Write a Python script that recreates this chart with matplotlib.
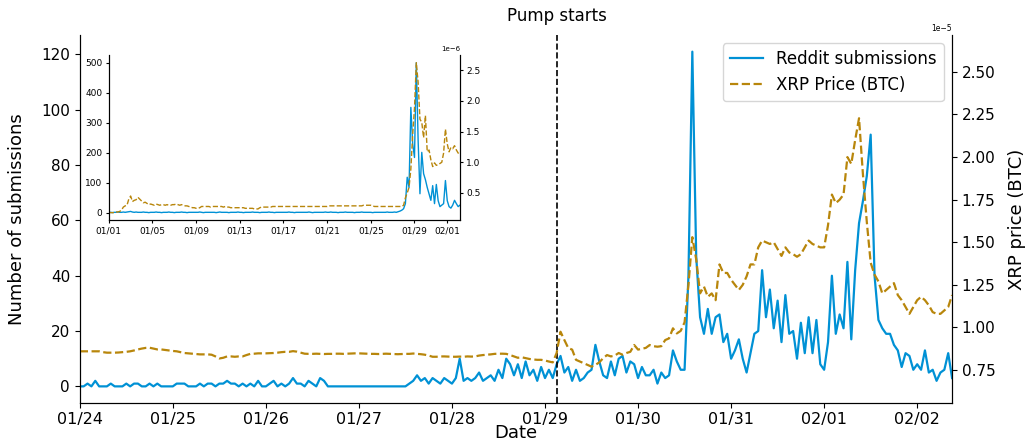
import numpy as np
import pandas as pd
import matplotlib
matplotlib.use("Agg")
import matplotlib.pyplot as plt
import matplotlib.dates as mdates
import matplotlib.transforms as mtransforms

# ==================================================
# DATA
# ==================================================
# main panel: hourly, 01/24 00:00 -> 02/02 09:00
main_start = "2018-01-24 00:00"
pump_time = "2018-01-29 03:00"

reddit_main = [
    0, 0, 1, 0, 2, 0, 0, 0, 1, 0, 0, 0, 1, 0, 1, 1, 0, 0, 1, 0, 1, 0, 0, 0,
    0, 1, 1, 1, 0, 0, 0, 1, 0, 1, 1, 0, 1, 1, 2, 1, 1, 0, 1, 0, 1, 0, 2, 0,
    0, 1, 2, 0, 1, 0, 1, 3, 1, 1, 0, 2, 1, 0, 3, 2, 0, 0, 0, 0, 0, 0, 0, 0,
    0, 0, 0, 0, 0, 0, 0, 0, 0, 0, 0, 0, 0, 1, 2, 4, 2, 3, 1, 3, 2, 1, 3, 2,
    1, 3, 10, 2, 3, 2, 3, 5, 2, 3, 4, 2, 6, 3, 10, 8, 4, 8, 3, 9, 4, 6, 2, 7,
    3, 6, 3, 8, 11, 5, 7, 2, 6, 2, 3, 5, 6, 15, 9, 4, 3, 9, 4, 10, 11, 5, 9, 8,
    3, 7, 4, 4, 6, 1, 5, 3, 4, 13, 9, 6, 6, 40, 121, 47, 25, 19, 28, 19, 25, 26, 16, 19,
    10, 13, 17, 10, 5, 12, 19, 20, 42, 25, 35, 21, 31, 16, 33, 19, 20, 10, 23, 12, 25, 12, 24, 8,
    6, 16, 40, 19, 26, 21, 45, 17, 42, 59, 67, 76, 91, 40, 24, 21, 19, 19, 15, 13, 7, 12, 11, 6,
    8, 6, 13, 5, 6, 2, 5, 6, 12, 3,
]

# XRP price in units of 1e-5 BTC
price_main = [
    0.86, 0.86, 0.86, 0.86, 0.86, 0.86, 0.855, 0.852, 0.852, 0.852, 0.853, 0.855,
    0.857, 0.86, 0.865, 0.871, 0.876, 0.88, 0.881, 0.876, 0.871, 0.871, 0.868, 0.865,
    0.862, 0.86, 0.855, 0.85, 0.848, 0.846, 0.844, 0.842, 0.842, 0.842, 0.84, 0.83,
    0.818, 0.822, 0.83, 0.83, 0.828, 0.83, 0.83, 0.838, 0.845, 0.846, 0.848, 0.848,
    0.848, 0.849, 0.85, 0.852, 0.855, 0.857, 0.857, 0.861, 0.858, 0.852, 0.846, 0.845,
    0.845, 0.846, 0.845, 0.844, 0.845, 0.845, 0.846, 0.846, 0.845, 0.846, 0.847, 0.848,
    0.848, 0.847, 0.846, 0.845, 0.845, 0.844, 0.845, 0.846, 0.845, 0.844, 0.843, 0.844,
    0.845, 0.845, 0.847, 0.845, 0.843, 0.84, 0.835, 0.828, 0.828, 0.83, 0.83, 0.829,
    0.828, 0.828, 0.829, 0.828, 0.83, 0.829, 0.83, 0.835, 0.838, 0.84, 0.842, 0.845,
    0.846, 0.846, 0.845, 0.838, 0.83, 0.822, 0.825, 0.82, 0.815, 0.812, 0.81, 0.81,
    0.806, 0.80, 0.795, 0.85, 0.975, 0.926, 0.879, 0.87, 0.81, 0.80, 0.79, 0.78,
    0.77, 0.78, 0.795, 0.82, 0.838, 0.83, 0.835, 0.85, 0.84, 0.85, 0.857, 0.897,
    0.87, 0.875, 0.88, 0.897, 0.89, 0.887, 0.89, 0.926, 0.936, 0.995, 0.965, 0.98,
    1.03, 1.25, 1.53, 1.40, 1.20, 1.24, 1.18, 1.20, 1.16, 1.37, 1.32, 1.32,
    1.28, 1.25, 1.22, 1.25, 1.30, 1.37, 1.37, 1.47, 1.51, 1.50, 1.49, 1.50,
    1.46, 1.42, 1.47, 1.44, 1.43, 1.415, 1.43, 1.47, 1.51, 1.49, 1.48, 1.47,
    1.47, 1.60, 1.78, 1.73, 1.75, 1.78, 2.00, 1.96, 2.10, 2.228, 1.90, 1.62,
    1.38, 1.31, 1.27, 1.20, 1.22, 1.24, 1.26, 1.19, 1.16, 1.12, 1.08, 1.12,
    1.16, 1.18, 1.16, 1.13, 1.09, 1.08, 1.08, 1.10, 1.12, 1.19,
]

# inset: 4-hourly, 01/01 00:00 -> 02/02 04:00
inset_start = "2018-01-01 00:00"

reddit_inset = [
    1, 1, 0, 1, 1, 2,   1, 1, 2, 1, 2, 3,   4, 2, 1, 2, 1, 1,   1, 2, 1, 1, 0, 1,
    1, 1, 2, 1, 1, 0,   1, 1, 1, 2, 1, 1,   0, 1, 1, 1, 2, 1,   1, 0, 1, 1, 1, 1,
    1, 1, 2, 1, 0, 1,   1, 1, 1, 1, 1, 0,   1, 2, 1, 1, 1, 1,   0, 1, 1, 1, 1, 2,
    1, 1, 0, 1, 1, 1,   1, 2, 1, 1, 1, 0,   1, 1, 1, 1, 2, 1,   1, 0, 1, 1, 1, 1,
    1, 1, 1, 2, 1, 1,   0, 1, 1, 1, 1, 1,   1, 1, 2, 1, 0, 1,   1, 1, 1, 1, 1, 2,
    1, 1, 2, 1, 1, 1,   0, 1, 1, 1, 2, 1,   1, 1, 1, 0, 1, 1,   1, 2, 1, 1, 1, 1,
    1, 0, 1, 1, 1, 1,   1, 1, 1, 2, 1, 1,   1, 2, 1, 3, 5, 8,
    13, 30, 118, 84, 351, 230,
    184, 500, 240, 63, 201, 130,
    110, 84, 63, 41, 90, 30,
    94, 40, 20, 25, 30, 107,
    40, 20, 15, 25, 41, 30,
    20, 25,
]

# XRP price in units of 1e-6 BTC
price_inset = [
    0.18, 0.18, 0.18, 0.18, 0.19, 0.19,   0.20, 0.22, 0.27, 0.29, 0.30, 0.40,
    0.45, 0.36, 0.38, 0.39, 0.43, 0.40,   0.37, 0.34, 0.35, 0.33, 0.31, 0.32,
    0.31, 0.30, 0.32, 0.31, 0.30, 0.31,   0.31, 0.30, 0.31, 0.30, 0.30, 0.31,
    0.31, 0.32, 0.31, 0.30, 0.31, 0.30,   0.29, 0.29, 0.28, 0.27, 0.26, 0.26,
    0.25, 0.25, 0.26, 0.28, 0.28, 0.28,   0.28, 0.28, 0.27, 0.28, 0.28, 0.28,
    0.28, 0.28, 0.28, 0.27, 0.28, 0.27,   0.27, 0.26, 0.26, 0.26, 0.26, 0.26,
    0.26, 0.26, 0.26, 0.25, 0.25, 0.25,   0.25, 0.25, 0.24, 0.24, 0.24, 0.26,
    0.27, 0.27, 0.27, 0.27, 0.27, 0.27,   0.28, 0.28, 0.28, 0.28, 0.28, 0.28,
    0.28, 0.28, 0.28, 0.28, 0.28, 0.28,   0.28, 0.28, 0.28, 0.28, 0.28, 0.28,
    0.28, 0.28, 0.28, 0.28, 0.28, 0.28,   0.28, 0.28, 0.28, 0.28, 0.28, 0.28,
    0.28, 0.29, 0.29, 0.29, 0.29, 0.29,   0.29, 0.29, 0.29, 0.29, 0.29, 0.29,
    0.29, 0.29, 0.29, 0.29, 0.29, 0.29,   0.29, 0.29, 0.30, 0.30, 0.30, 0.30,
    0.30, 0.29, 0.28, 0.28, 0.28, 0.28,   0.28, 0.28, 0.28, 0.28, 0.28, 0.28,
    0.28, 0.28, 0.28, 0.28, 0.28, 0.28,
    0.30, 0.42, 0.50, 0.59, 0.89, 1.45,
    1.88, 2.62, 2.30, 1.70, 1.65, 1.40,
    1.76, 1.17, 1.20, 1.04, 0.93, 0.99,
    0.95, 0.96, 0.98, 1.00, 1.15, 1.54,
    1.30, 1.17, 1.24, 1.22, 1.27, 1.20,
    1.15, 1.12,
]

inset_tick_days = [1, 5, 9, 13, 17, 21, 25, 29]

BLUE = "#0091d5"
GOLD = "#b8860b"

t_main = pd.date_range(main_start, periods=len(reddit_main), freq="h")
t_inset = pd.date_range(inset_start, periods=len(reddit_inset), freq="4h")
p_main = np.array(price_main) * 1e-5
p_inset = np.array(price_inset) * 1e-6

# ==================================================
# MAIN PANEL
# ==================================================
fig = plt.figure(figsize=(10.36, 4.42), dpi=100)
ax = fig.add_axes([0.077, 0.088, 0.842, 0.833])
ax2 = ax.twinx()

l1, = ax.plot(t_main, reddit_main, color=BLUE, lw=1.6, label="Reddit submissions")
l2, = ax2.plot(t_main, p_main, color=GOLD, ls="--", lw=1.6, label="XRP Price (BTC)")

pump = pd.Timestamp(pump_time)
ax.axvline(pump, color="black", ls="--", lw=1.2)
trans = mtransforms.blended_transform_factory(ax.transData, ax.transAxes)
ax.text(pump, 1.052, "Pump starts", transform=trans, ha="center", va="center", fontsize=12)

ax.set_xlim(t_main[0], t_main[-1])
ax2.set_ylim(0.556e-5, 2.717e-5)
ax.xaxis.set_major_locator(mdates.DayLocator())
ax.xaxis.set_major_formatter(mdates.DateFormatter("%m/%d"))

ax.tick_params(axis="x", labelsize=11.5, pad=3)
ax.tick_params(axis="y", labelsize=11)
ax2.tick_params(axis="y", labelsize=11)
ax2.yaxis.get_offset_text().set_fontsize(5.5)

ax.set_xlabel("Date", fontsize=13, labelpad=-2.5)
ax.set_ylabel("Number of submissions", fontsize=13, labelpad=11)
ax2.set_ylabel("XRP price (BTC)", fontsize=13, labelpad=9)

for a in (ax, ax2):
    a.spines["top"].set_visible(False)

ax2.legend([l1, l2], [l1.get_label(), l2.get_label()], loc="upper right", fontsize=12)

# ==================================================
# INSET: whole month
# ==================================================
axi = fig.add_axes([0.105, 0.502, 0.339, 0.373])
axi2 = axi.twinx()
axi.plot(t_inset, reddit_inset, color=BLUE, lw=1.0)
axi2.plot(t_inset, p_inset, color=GOLD, ls="--", lw=1.0)
axi.set_xlim(t_inset[0], t_inset[-1])
axi.xaxis.set_major_locator(mdates.DayLocator(bymonthday=inset_tick_days))
axi.xaxis.set_major_formatter(mdates.DateFormatter("%m/%d"))
axi.tick_params(labelsize=6.5, length=2.5, pad=2)
axi2.tick_params(labelsize=6.5, length=2.5, pad=2)
axi2.yaxis.get_offset_text().set_fontsize(5)
for a in (axi, axi2):
    a.spines["top"].set_visible(False)

fig.savefig("out.png", dpi=100)
